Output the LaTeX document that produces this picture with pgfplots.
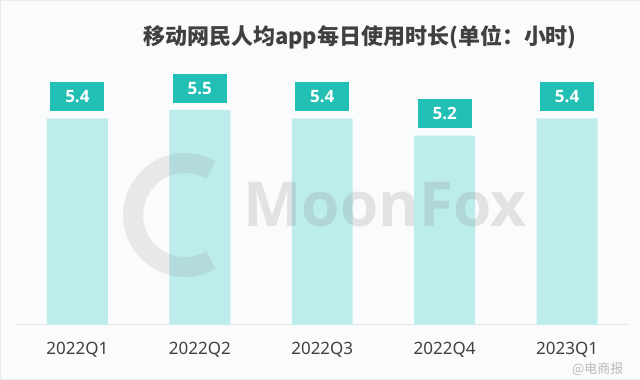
\documentclass[border=0pt]{standalone}
\usepackage{pgfplots}
\pgfplotsset{compat=1.18}
\usepackage{fontspec}
\setmainfont{Noto Sans}
\newfontfamily\cjk{Noto Sans CJK SC}
\newfontfamily\wm{Open Sans}
\definecolor{bg}{HTML}{FAFBFC}
\definecolor{barcol}{HTML}{BDECEC}
\definecolor{boxcol}{HTML}{22BFB5}
\definecolor{txt}{HTML}{404040}
\begin{document}
\begin{tikzpicture}[x=1pt,y=1pt]
\path[fill=bg, draw=black!8] (0,0) rectangle (640,379);
\begin{axis}[
  at={(16pt,54pt)}, anchor=south west,
  width=612.5pt, height=261pt, scale only axis,
  xmin=-0.5, xmax=4.5, ymin=3.0, ymax=6.03,
  axis x line*=bottom, axis y line=none,
  x axis line style={-, draw=black!10, line width=1pt},
  xtick={0,1,2,3,4},
  xticklabels={2022Q1,2022Q2,2022Q3,2022Q4,2023Q1},
  xtick style={draw=none},
  xticklabel style={font=\fontsize{17}{17}\selectfont, text=txt, yshift=-9pt},
  ytick=\empty,
  clip=false,
  ybar, bar width=61pt,
  nodes near coords,
  point meta=y,
  nodes near coords style={/pgf/number format/.cd, fixed, fixed zerofill, precision=1, assume math mode=true, /tikz/.cd,
    fill=boxcol, text=white, font=\wm\bfseries\fontsize{17}{17}\selectfont,
    minimum width=54pt, minimum height=29pt, inner sep=0pt, anchor=south, yshift=7pt},
]
\addplot[fill=barcol, draw=none] coordinates {(0,5.4) (1,5.5) (2,5.4) (3,5.2) (4,5.4)};
\end{axis}
\draw[line width=20pt, gray, opacity=0.15] (185,164) ++(60:52) arc[start angle=60, end angle=300, radius=52];
\node[text=gray, opacity=0.2, font=\wm\bfseries\fontsize{62}{62}\selectfont] at (385,174) {MoonFox};
\node[text=txt, font=\cjk\bfseries\fontsize{22}{22}\selectfont] at (360,342) {移动网民人均app每日使用时长(单位：小时)};
\node[text=gray!55, font=\cjk\fontsize{13}{13}\selectfont] at (598,10) {@电商报};
\end{tikzpicture}
\end{document}
